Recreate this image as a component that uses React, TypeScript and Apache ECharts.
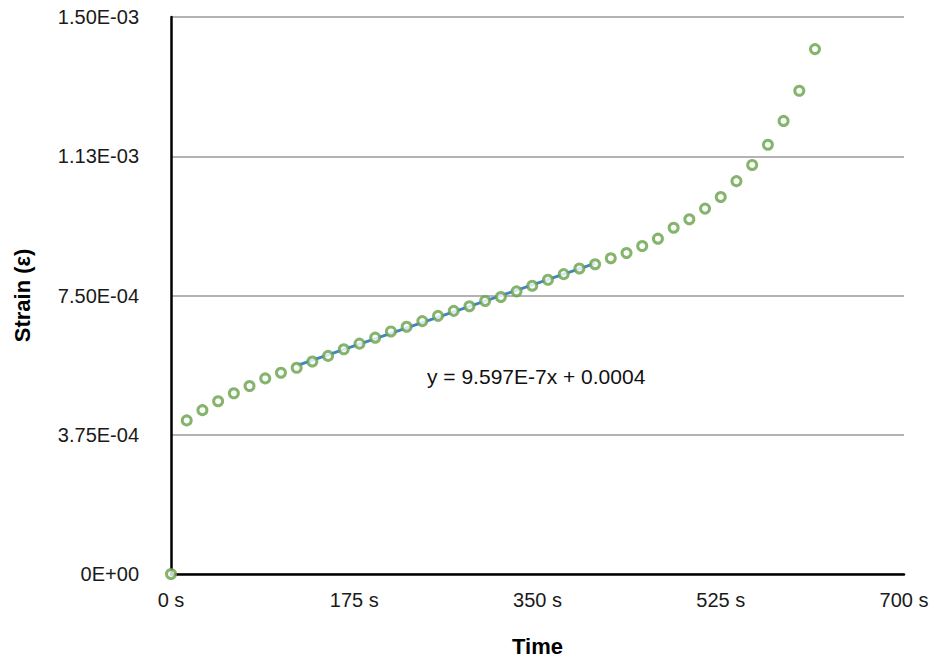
import React, { useEffect, useRef } from "react";
import * as echarts from "echarts";

const times: number[] = [
  0, 15, 30, 45, 60, 75, 90, 105, 120, 135, 150, 165, 180, 195, 210, 225, 240, 255, 270, 285,
  300, 315, 330, 345, 360, 375, 390, 405, 420, 435, 450, 465, 480, 495, 510, 525, 540, 555,
  570, 585, 600, 615,
];
const strain: number[] = [
  0, 4.136e-4, 4.412e-4, 4.652e-4, 4.866e-4, 5.062e-4, 5.267e-4, 5.42e-4, 5.553e-4, 5.722e-4,
  5.874e-4, 6.051e-4, 6.203e-4, 6.364e-4, 6.532e-4, 6.658e-4, 6.81e-4, 6.952e-4, 7.086e-4,
  7.211e-4, 7.353e-4, 7.46e-4, 7.612e-4, 7.762e-4, 7.923e-4, 8.075e-4, 8.227e-4, 8.342e-4,
  8.503e-4, 8.644e-4, 8.832e-4, 9.03e-4, 9.324e-4, 9.553e-4, 9.84e-4, 1.0152e-3, 1.058e-3,
  1.1016e-3, 1.1559e-3, 1.2201e-3, 1.3013e-3, 1.4136e-3,
];
const yTickLabels: string[] = ["0E+00", "3.75E-04", "7.50E-04", "1.13E-03", "1.50E-03"];
const fitStart = 120;
const fitEnd = 405;
const equationText = "y = 9.597E-7x + 0.0004";

const FONT = "'Liberation Sans', Arial, Helvetica, sans-serif";

export default function App() {
  const ref = useRef<HTMLDivElement>(null);
  useEffect(() => {
    if (!ref.current) return;
    const chart = echarts.init(ref.current, undefined, { renderer: "svg" });

    const xs: number[] = [];
    const ys: number[] = [];
    times.forEach((t, i) => {
      if (t >= fitStart && t <= fitEnd) {
        xs.push(t);
        ys.push(strain[i]);
      }
    });
    const n = xs.length;
    const mx = xs.reduce((a, b) => a + b, 0) / n;
    const my = ys.reduce((a, b) => a + b, 0) / n;
    let sxy = 0;
    let sxx = 0;
    for (let i = 0; i < n; i++) {
      sxy += (xs[i] - mx) * (ys[i] - my);
      sxx += (xs[i] - mx) * (xs[i] - mx);
    }
    const slope = sxy / sxx;
    const icpt = my - slope * mx;
    const trend = [
      [fitStart, icpt + slope * fitStart],
      [fitEnd, icpt + slope * fitEnd],
    ];

    const yInterval = 3.75e-4;

    chart.setOption({
      animation: false,
      backgroundColor: "#ffffff",
      textStyle: { fontFamily: FONT },
      grid: { left: 171, right: 30, top: 17, bottom: 84, containLabel: false },
      xAxis: {
        type: "value",
        min: 0,
        max: 700,
        interval: 175,
        name: "Time",
        nameLocation: "middle",
        nameGap: 61,
        nameTextStyle: { fontFamily: FONT, fontSize: 22, fontWeight: "bold", color: "#000" },
        axisLine: { show: true, onZero: false, lineStyle: { color: "#000", width: 2.5 } },
        axisTick: { show: false },
        splitLine: { show: false },
        axisLabel: {
          fontFamily: FONT,
          fontSize: 20,
          color: "#1a1a1a",
          margin: 16,
          formatter: (v: number) => `${v} s`,
        },
      },
      yAxis: {
        type: "value",
        min: 0,
        max: 1.5e-3,
        interval: yInterval,
        name: "Strain (ε)",
        nameLocation: "middle",
        nameGap: 138,
        nameTextStyle: { fontFamily: FONT, fontSize: 22, fontWeight: "bold", color: "#000" },
        axisLine: { show: true, lineStyle: { color: "#000", width: 2.5 } },
        axisTick: { show: false },
        splitLine: { show: true, lineStyle: { color: "#b3b3b3", width: 2 } },
        axisLabel: {
          fontFamily: FONT,
          fontSize: 20,
          color: "#1a1a1a",
          margin: 32,
          formatter: (v: number) => yTickLabels[Math.round(v / yInterval)] ?? "",
        },
      },
      series: [
        {
          type: "line",
          data: trend,
          symbol: "none",
          lineStyle: { color: "#4281cc", width: 3 },
          z: 2,
          silent: true,
        },
        {
          type: "scatter",
          data: times.map((t, i) => [t, strain[i]]),
          symbol: "circle",
          symbolSize: 9,
          itemStyle: { color: "#ffffff", borderColor: "#66a349", borderWidth: 3 },
          z: 3,
        },
      ],
      graphic: [
        {
          type: "text",
          left: 427,
          top: 366,
          style: {
            text: equationText,
            fontFamily: FONT,
            fontSize: 21,
            fill: "#111",
          },
        },
      ],
    });
    return () => chart.dispose();
  }, []);
  return (
    <div
      ref={ref}
      style={{ position: "fixed", left: 0, top: 0, width: 934, height: 662, background: "#fff" }}
    />
  );
}
